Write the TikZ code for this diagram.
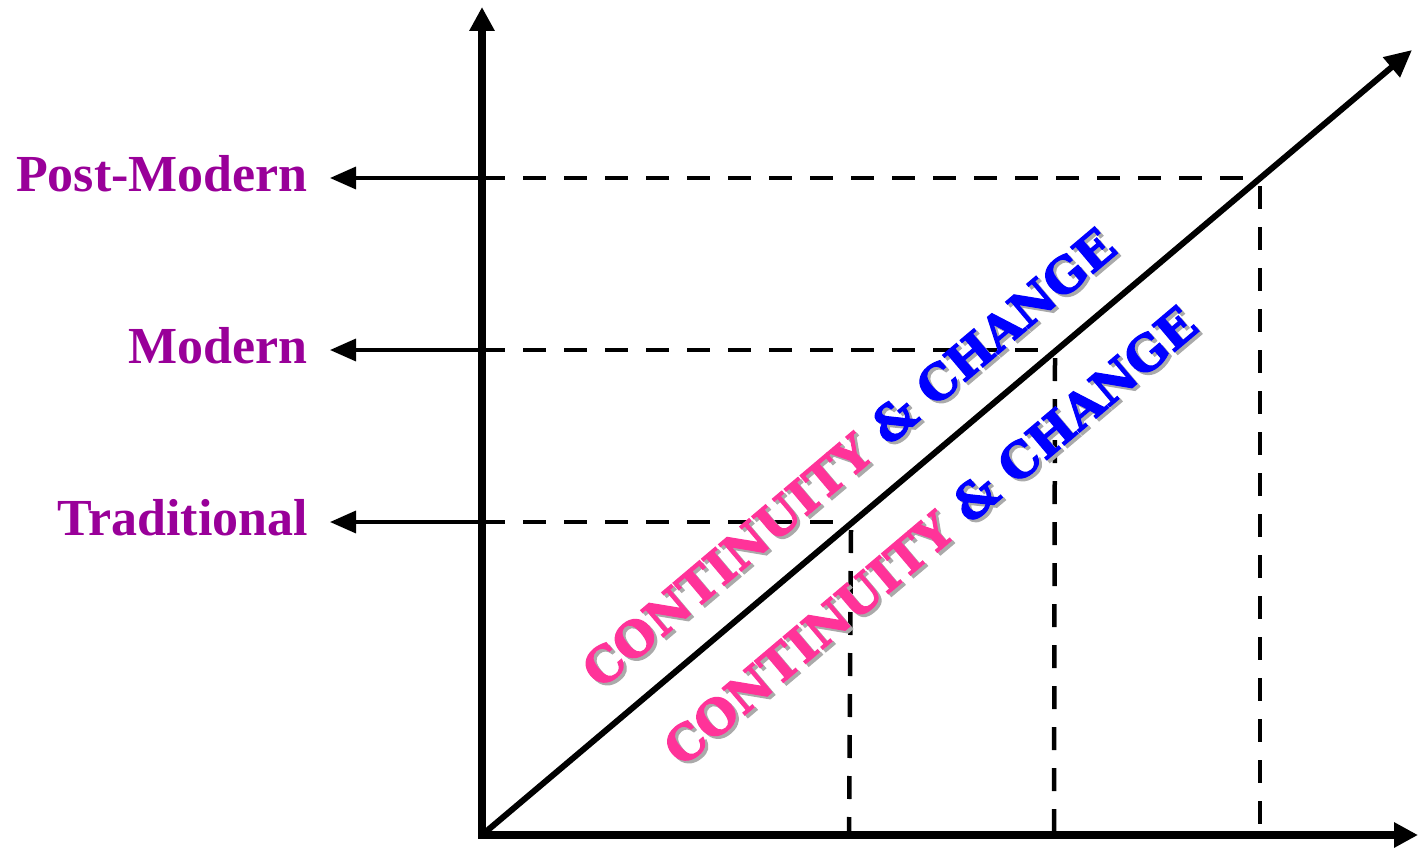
\documentclass[tikz,border=0pt]{standalone}
\usepackage{fontspec}
\setmainfont{Liberation Serif}
\newfontface\slabfont{DejaVu Serif Bold}[FakeBold=2.5]
\usetikzlibrary{arrows.meta}
\definecolor{eraPurple}{HTML}{990099}
\definecolor{ccPink}{HTML}{FF3399}
\definecolor{ccBlue}{HTML}{0000FF}
\definecolor{ccShadow}{HTML}{AAAAAA}
% caption with a soft drop shadow set behind it in the same box
\newcommand\ccCaption{%
  \rlap{\kern0.6pt\raisebox{-4pt}{\color{ccShadow}CONTINUITY \& CHANGE}}%
  {\color{ccPink}CONTINUITY} {\color{ccBlue}\& CHANGE}}
\begin{document}
\begin{tikzpicture}[x=1pt,y=-1pt,
  axisline/.style={line width=7.5pt, line join=miter,
    {Triangle[length=24pt,width=24pt]}-{Triangle[length=24pt,width=24pt]}},
  trendline/.style={line width=6pt, -{Triangle[length=27pt,width=25pt]}},
  eraarrow/.style={line width=3.5pt, -{Triangle[length=26pt,width=22pt]}},
  guide/.style={line width=4.5pt, dash pattern=on 23pt off 18pt},
  eralabel/.style={anchor=base east, inner sep=0pt, text=eraPurple,
    font=\bfseries\fontsize{52}{52}\selectfont},
  cclabel/.style={inner sep=0pt, rotate=40.2,
    font=\slabfont\fontsize{48}{48}\selectfont},
]
\useasboundingbox (0,0) rectangle (1418,848);

% axes and the rising trend line
\coordinate (O) at (482,835);
\coordinate (ytop) at (482,7);
\coordinate (xend) at (1418,835);
\coordinate (D) at (1412,50);

% points where each era meets the trend line
\coordinate (p1) at (851,522);
\coordinate (p2) at (1055,350);
\coordinate (p3) at (1260,178);

% feet of the guides on each axis
\coordinate (y1) at (482,522);
\coordinate (y2) at (482,350);
\coordinate (y3) at (482,178);
\coordinate (x1) at (849,835);
\coordinate (x2) at (1054,835);
\coordinate (x3) at (1260,835);

% tips of the era arrows
\coordinate (t1) at (330,522);
\coordinate (t2) at (330,350);
\coordinate (t3) at (330,178);

% dashed guides
\draw[guide] (y1) -- (p1);
\draw[guide] (y2) -- (p2);
\draw[guide] (y3) -- (p3);
\draw[guide] (p1 |- 0,530) -- (x1);
\draw[guide] (p2 |- 0,358) -- (x2);
\draw[guide] (p3 |- 0,186) -- (x3);

% axes
\draw[axisline] (ytop) -- (O) -- (xend);
\draw[trendline] (O) -- (D);

% era arrows and labels
\draw[eraarrow] (y1) -- (t1);
\draw[eraarrow] (y2) -- (t2);
\draw[eraarrow] (y3) -- (t3);
\node[eralabel] (lTrad) at (308,535) {Traditional};
\node[eralabel] (lMod) at (308,363) {Modern};
\node[eralabel] (lPost) at (308,191) {Post-Modern};

% slanted captions on either side of the trend line
\node[cclabel] (cc1) at (850,459) {\ccCaption};
\node[cclabel] (cc2) at (931.5,537) {\ccCaption};
\end{tikzpicture}
\end{document}
